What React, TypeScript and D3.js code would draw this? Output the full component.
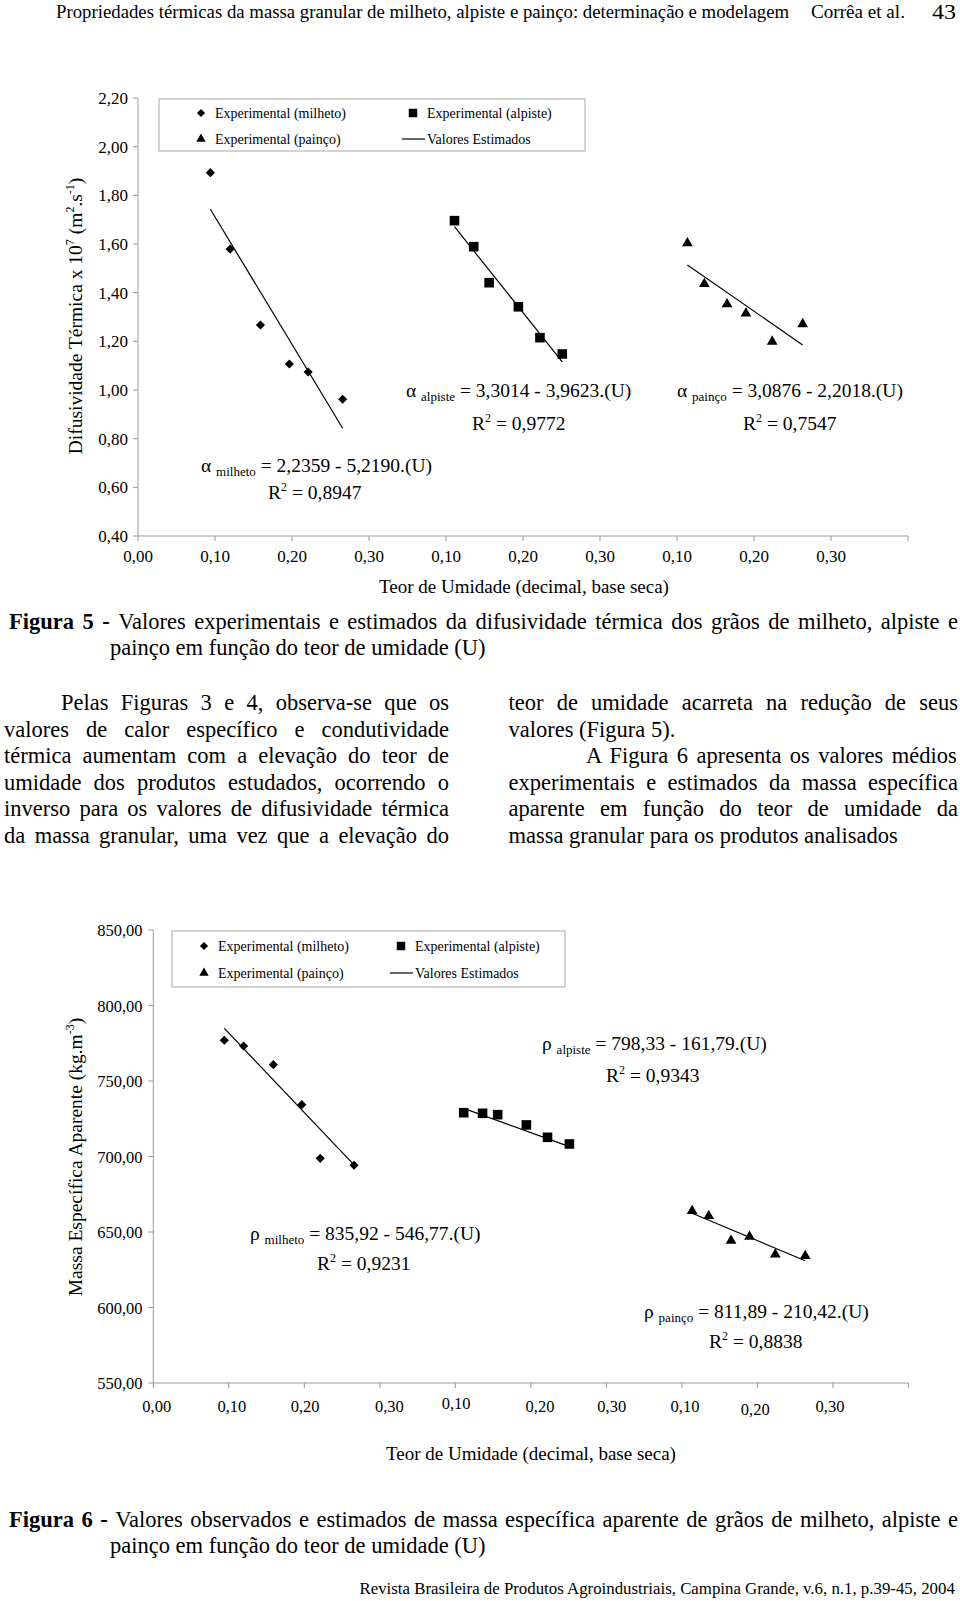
import React from "react";
import * as d3 from "d3";

// ---------------- DATA ----------------
const productNames = ["milheto", "alpiste", "painço"];
const groupOffsets = [0, 0.3, 0.6];

const moistureMilheto = [0.094, 0.1196, 0.159, 0.1966, 0.221, 0.2658];
const moistureAlpiste = [0.111, 0.136, 0.156, 0.194, 0.222, 0.251];
const moisturePainco = [0.1135, 0.1355, 0.165, 0.1895, 0.2236, 0.2632];

const difMilheto = [1.893, 1.579, 1.267, 1.107, 1.074, 0.962];
const difAlpiste = [1.696, 1.589, 1.441, 1.342, 1.215, 1.148];
const difPainco = [1.603, 1.436, 1.353, 1.315, 1.199, 1.271];
const difFitEnds = [[1.743, 0.843], [1.671, 1.116], [1.514, 1.185]];
const difEqRhs = ["2,2359 - 5,2190.(U)", "3,3014 - 3,9623.(U)", "3,0876 - 2,2018.(U)"];
const difR2 = ["0,8947", "0,9772", "0,7547"];

const densMilheto = [777, 773.2, 760.8, 734.3, 698.8, 694.2];
const densAlpiste = [729, 728.6, 727.7, 720.9, 712.7, 708.3];
const densPainco = [663.9, 660.6, 644.2, 646.9, 635.2, 634.1];
const densFitEnds = [[784.9, 694.4], [731.9, 706.5], [662.4, 631]];
const densEqRhs = ["835,92 - 546,77.(U)", "798,33 - 161,79.(U)", "811,89 - 210,42.(U)"];
const densR2 = ["0,9231", "0,9343", "0,8838"];

const xTickLabels = ["0,00", "0,10", "0,20", "0,30", "0,10", "0,20", "0,30", "0,10", "0,20", "0,30"];
const xLabelPos1 = [0, 0.1, 0.2, 0.3, 0.4, 0.5, 0.6, 0.7, 0.8, 0.9];
const xLabelPos2 = [0.0045, 0.104, 0.201, 0.3126, 0.401, 0.512, 0.607, 0.704, 0.797, 0.896];
const xTickMarks = [0, 0.1, 0.2, 0.3, 0.4, 0.5, 0.6, 0.7, 0.8, 0.9, 1.0];
const yTicks1 = [0.4, 0.6, 0.8, 1.0, 1.2, 1.4, 1.6, 1.8, 2.0, 2.2];
const yTicks2 = [550, 600, 650, 700, 750, 800, 850];

const legendLabels = ["Experimental (milheto)", "Experimental (alpiste)", "Experimental (painço)", "Valores Estimados"];

const moistures = [moistureMilheto, moistureAlpiste, moisturePainco];

// ---------------- TEXT ----------------
const FAMILY = "'Liberation Serif', 'Times New Roman', Times, serif";

let _ctx: CanvasRenderingContext2D | null = null;
function measure(text: string, font: string): number {
  if (!_ctx && typeof document !== "undefined") {
    _ctx = document.createElement("canvas").getContext("2d");
  }
  if (!_ctx) return text.length * 9;
  _ctx.font = font;
  return _ctx.measureText(text).width;
}

function JLine(props: { x: number; x2: number; y: number; text: string; bold?: string; size: number; justify: boolean }) {
  const { x, x2, y, text, bold, size, justify } = props;
  const natural = (bold ? measure(bold, `bold ${size}px ${FAMILY}`) : 0) + measure(text, `${size}px ${FAMILY}`);
  const full = (bold || "") + text;
  const spaces = (full.match(/ /g) || []).length;
  const ws = justify && spaces ? (x2 - x - natural) / spaces : 0;
  return (
    <text x={x} y={y} fontSize={size} wordSpacing={ws} style={{ whiteSpace: "pre" }}>
      {bold ? <tspan fontWeight="bold">{bold}</tspan> : null}
      {text}
    </text>
  );
}

// text horizontally scaled to fit a given width (condensed running header/footer)
function FitText(props: { x: number; y: number; width: number; text: string; size: number }) {
  const { x, y, width, text, size } = props;
  const natural = measure(text, `${size}px ${FAMILY}`);
  const k = natural > 0 ? width / natural : 1;
  return (
    <text transform={`translate(${x},${y}) scale(${k},1)`} fontSize={size}>
      {text}
    </text>
  );
}

// ---------------- MARKERS ----------------
const diamondPath = d3.symbol(d3.symbolSquare, 42)() as string;
const squarePath = d3.symbol(d3.symbolSquare, 92)() as string;
const trianglePath = d3.symbol(d3.symbolTriangle, 50)() as string;
const diamondLeg = d3.symbol(d3.symbolSquare, 34)() as string;
const squareLeg = d3.symbol(d3.symbolSquare, 72)() as string;
const triangleLeg = d3.symbol(d3.symbolTriangle, 38)() as string;

function Marker({ kind, x, y, legend }: { kind: number; x: number; y: number; legend?: boolean }) {
  if (kind === 0)
    return <path d={legend ? diamondLeg : diamondPath} transform={`translate(${x},${y}) rotate(45)`} fill="#000" />;
  if (kind === 1) return <path d={legend ? squareLeg : squarePath} transform={`translate(${x},${y})`} fill="#000" />;
  return <path d={legend ? triangleLeg : trianglePath} transform={`translate(${x},${y})`} fill="#000" />;
}

const AXIS = "#9a9a9a";

type ChartCfg = {
  x0: number; x1: number; yTop: number; yBottom: number;
  yDomain: [number, number]; yTicks: number[]; yFmt: (v: number) => string;
  yLabelRight: number; tickFont: number;
  values: number[][]; fits: number[][];
  labelPos: number[]; labelBase: number; labelDy: number[];
  legend: { x: number; y: number; w: number; h: number; c1: number; c2: number; r1: number; r2: number };
  yTitle: React.ReactNode; yTitleX: number; yTitleY: number;
  xTitleX: number; xTitleY: number;
  eqSymbol: string; eqRhs: string[]; eqR2: string[];
  eqPos: { x: number; y: number; rx: number; ry: number }[];
};

function Chart({ cfg }: { cfg: ChartCfg }) {
  const x = d3.scaleLinear().domain([0, 1]).range([cfg.x0, cfg.x1]);
  const y = d3.scaleLinear().domain(cfg.yDomain).range([cfg.yBottom, cfg.yTop]);
  const line = d3.line<[number, number]>().x((d) => x(d[0])).y((d) => y(d[1]));
  const L = cfg.legend;
  return (
    <g>
      {/* axes */}
      <line x1={cfg.x0} x2={cfg.x0} y1={y(cfg.yDomain[1])} y2={cfg.yBottom} stroke={AXIS} strokeWidth={1} />
      <line x1={cfg.x0} x2={cfg.x1} y1={cfg.yBottom} y2={cfg.yBottom} stroke={AXIS} strokeWidth={1} />
      {cfg.yTicks.map((t) => (
        <g key={"yt" + t}>
          <line x1={cfg.x0 - 5} x2={cfg.x0} y1={y(t)} y2={y(t)} stroke={AXIS} />
          <text x={cfg.yLabelRight} y={y(t) + 6} textAnchor="end" fontSize={cfg.tickFont}>
            {cfg.yFmt(t)}
          </text>
        </g>
      ))}
      {xTickMarks.map((t) => (
        <line key={"xt" + t} x1={x(t)} x2={x(t)} y1={cfg.yBottom} y2={cfg.yBottom + 5} stroke={AXIS} />
      ))}
      {xTickLabels.map((lab, i) => (
        <text key={"xl" + i} x={x(cfg.labelPos[i])} y={cfg.labelBase + cfg.labelDy[i]} textAnchor="middle" fontSize={cfg.tickFont}>
          {lab}
        </text>
      ))}
      {/* fitted lines */}
      {cfg.fits.map((f, i) => {
        const u = moistures[i];
        const pts: [number, number][] = [
          [u[0] + groupOffsets[i], f[0]],
          [u[u.length - 1] + groupOffsets[i], f[1]],
        ];
        return <path key={"fit" + i} d={line(pts) as string} stroke="#000" strokeWidth={1.2} fill="none" />;
      })}
      {/* points */}
      {cfg.values.map((vals, i) =>
        vals.map((v, j) => <Marker key={`p${i}-${j}`} kind={i} x={x(moistures[i][j] + groupOffsets[i])} y={y(v)} />)
      )}
      {/* legend */}
      <rect x={L.x} y={L.y} width={L.w} height={L.h} fill="#fff" stroke="#a8a8a8" strokeWidth={1} />
      <Marker kind={0} x={L.c1} y={L.r1} legend />
      <text x={L.c1 + 14} y={L.r1 + 5} fontSize={14}>{legendLabels[0]}</text>
      <Marker kind={2} x={L.c1} y={L.r2} legend />
      <text x={L.c1 + 14} y={L.r2 + 5} fontSize={14}>{legendLabels[2]}</text>
      <Marker kind={1} x={L.c2} y={L.r1} legend />
      <text x={L.c2 + 14} y={L.r1 + 5} fontSize={14}>{legendLabels[1]}</text>
      <line x1={L.c2 - 11} x2={L.c2 + 12} y1={L.r2} y2={L.r2} stroke="#000" strokeWidth={1.2} />
      <text x={L.c2 + 14} y={L.r2 + 5} fontSize={14}>{legendLabels[3]}</text>
      {/* titles */}
      <text transform={`translate(${cfg.yTitleX},${cfg.yTitleY}) rotate(-90)`} textAnchor="middle" dy="0.35em" fontSize={19.5}>
        {cfg.yTitle}
      </text>
      <text x={cfg.xTitleX} y={cfg.xTitleY} textAnchor="middle" fontSize={19}>
        Teor de Umidade (decimal, base seca)
      </text>
      {/* equations */}
      {cfg.eqPos.map((p, i) => (
        <g key={"eq" + i}>
          <text x={p.x} y={p.y} fontSize={19.5} style={{ whiteSpace: "pre" }}>
            {cfg.eqSymbol + " "}
            <tspan fontSize={13} dy={4}>{productNames[i]}</tspan>
            <tspan dy={-4}>{" = " + cfg.eqRhs[i]}</tspan>
          </text>
          <text x={p.rx} y={p.ry} fontSize={19.5} style={{ whiteSpace: "pre" }}>
            R
            <tspan fontSize={12} dy={-8}>2</tspan>
            <tspan dy={8}>{" = " + cfg.eqR2[i]}</tspan>
          </text>
        </g>
      ))}
    </g>
  );
}

const fmt2 = (v: number) => d3.format(".2f")(v).replace(".", ",");

const chart1: ChartCfg = {
  x0: 138, x1: 908, yTop: 98, yBottom: 536,
  yDomain: [0.4, 2.2], yTicks: yTicks1, yFmt: fmt2, yLabelRight: 128, tickFont: 17,
  values: [difMilheto, difAlpiste, difPainco], fits: difFitEnds,
  labelPos: xLabelPos1, labelBase: 562, labelDy: [0, 0, 0, 0, 0, 0, 0, 0, 0, 0],
  legend: { x: 159, y: 99, w: 426, h: 52, c1: 201, c2: 413, r1: 113, r2: 139 },
  yTitle: (
    <>
      Difusividade Térmica x 10<tspan fontSize={12} dy={-8}>7</tspan>
      <tspan dy={8}> (m</tspan>
      <tspan fontSize={12} dy={-8}>2</tspan>
      <tspan dy={8}>.s</tspan>
      <tspan fontSize={12} dy={-8}>-1</tspan>
      <tspan dy={8}>)</tspan>
    </>
  ),
  yTitleX: 75, yTitleY: 316,
  xTitleX: 524, xTitleY: 593,
  eqSymbol: "α", eqRhs: difEqRhs, eqR2: difR2,
  eqPos: [
    { x: 201, y: 472, rx: 268, ry: 499 },
    { x: 406, y: 397, rx: 472, ry: 430 },
    { x: 677, y: 397, rx: 743, ry: 430 },
  ],
};

const chart2: ChartCfg = {
  x0: 153.3, x1: 908.5, yTop: 930, yBottom: 1383,
  yDomain: [550, 850], yTicks: yTicks2, yFmt: fmt2, yLabelRight: 142.5, tickFont: 16.5,
  values: [densMilheto, densAlpiste, densPainco], fits: densFitEnds,
  labelPos: xLabelPos2, labelBase: 1412, labelDy: [0, 0, 0, 0, -3, 0, 0, 0, 3, 0],
  legend: { x: 172, y: 931, w: 393, h: 56, c1: 204, c2: 401, r1: 946, r2: 973 },
  yTitle: (
    <>
      Massa Específica Aparente (kg.m<tspan fontSize={12} dy={-8}>-3</tspan>
      <tspan dy={8}>)</tspan>
    </>
  ),
  yTitleX: 75, yTitleY: 1157,
  xTitleX: 531, xTitleY: 1460,
  eqSymbol: "ρ", eqRhs: densEqRhs, eqR2: densR2,
  eqPos: [
    { x: 250, y: 1240, rx: 317, ry: 1270 },
    { x: 542, y: 1050, rx: 606, ry: 1082 },
    { x: 644, y: 1318, rx: 709, ry: 1348 },
  ],
};

const BODY = 22.5;
const LH = 26.5;
const leftCol = [
  "Pelas Figuras 3 e 4, observa-se que os",
  "valores de calor específico e condutividade",
  "térmica aumentam com a elevação do teor de",
  "umidade dos produtos estudados, ocorrendo o",
  "inverso para os valores de difusividade térmica",
  "da massa granular, uma vez que a elevação do",
];
const rightCol = [
  "teor de umidade acarreta na redução de seus",
  "valores (Figura 5).",
  "A Figura 6 apresenta os valores médios",
  "experimentais e estimados da massa específica",
  "aparente em função do teor de umidade da",
  "massa granular para os produtos analisados",
];

export default function App() {
  return (
    <svg
      width={960}
      height={1601}
      viewBox="0 0 960 1601"
      style={{ position: "absolute", left: 0, top: 0, background: "#fff" }}
      fontFamily={FAMILY}
      fill="#000"
    >
      <rect x={0} y={0} width={960} height={1601} fill="#fff" />
      {/* header */}
      <FitText x={56} y={18} width={734} size={19.5} text="Propriedades térmicas da massa granular de milheto, alpiste e painço: determinação e modelagem" />
      <FitText x={811} y={18} width={94} size={19.5} text="Corrêa et al." />
      <FitText x={932} y={19} width={24} size={22} text="43" />

      <Chart cfg={chart1} />

      {/* caption 5 */}
      <JLine x={9} x2={958} y={629} bold="Figura 5 - " text="Valores experimentais e estimados da difusividade térmica dos grãos de milheto, alpiste e" size={BODY} justify />
      <JLine x={110} x2={495} y={655} text="painço em função do teor de umidade (U)" size={BODY} justify={false} />

      {/* paragraphs */}
      {leftCol.map((t, i) => (
        <JLine key={"l" + i} x={i === 0 ? 61 : 4} x2={449} y={710 + i * LH} text={t} size={BODY} justify />
      ))}
      {rightCol.map((t, i) => (
        <JLine
          key={"r" + i}
          x={i === 2 ? 586 : 508.5}
          x2={958}
          y={710 + i * LH}
          text={t}
          size={BODY}
          justify={i !== 1 && i !== 5}
        />
      ))}

      <Chart cfg={chart2} />

      {/* caption 6 */}
      <JLine x={9} x2={958} y={1527} bold="Figura 6 - " text="Valores observados e estimados de massa específica aparente de grãos de milheto, alpiste e" size={BODY} justify />
      <JLine x={110} x2={495} y={1553} text="painço em função do teor de umidade (U)" size={BODY} justify={false} />

      {/* footer */}
      <FitText x={359.5} y={1594} width={597} size={17.5} text="Revista Brasileira de Produtos Agroindustriais, Campina Grande, v.6, n.1, p.39-45, 2004" />
    </svg>
  );
}
